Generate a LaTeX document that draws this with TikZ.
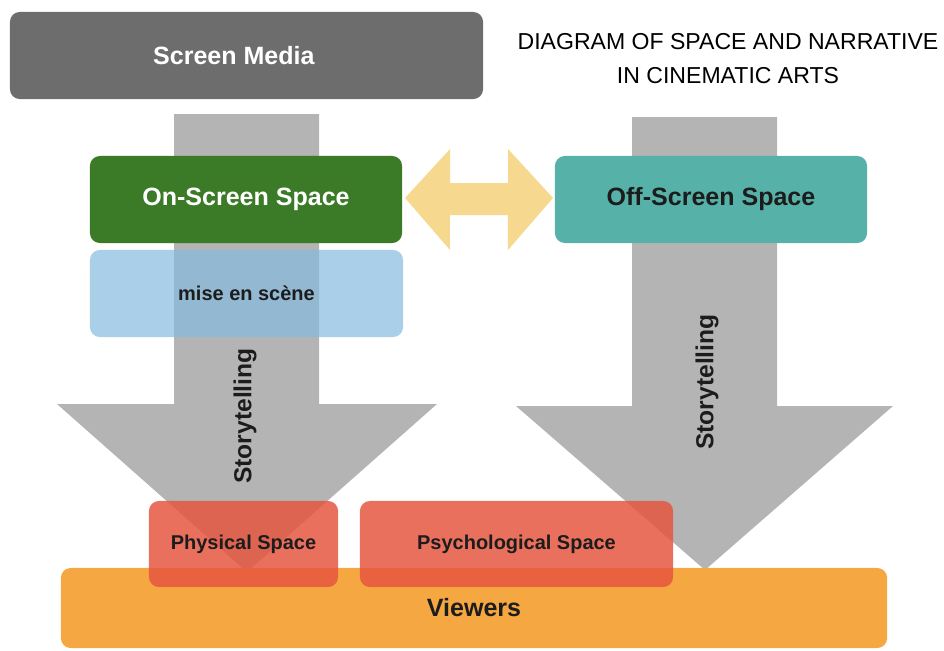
\documentclass[tikz,border=0pt]{standalone}
\usepackage{fontspec}
\setmainfont{Liberation Sans}
\usepackage{tikz}
\usepackage{xcolor}
\usetikzlibrary{positioning, calc}

\definecolor{mediagray}{HTML}{6D6D6D}
\definecolor{flowgray}{HTML}{B4B4B4}
\definecolor{ongreen}{HTML}{3B7B27}
\definecolor{offteal}{HTML}{56B2A8}
\definecolor{linkyellow}{HTML}{F6D88F}
\definecolor{sceneblue}{HTML}{86BBE0}
\definecolor{spacered}{HTML}{E6553F}
\definecolor{vieworange}{HTML}{F5A742}
\definecolor{darktext}{HTML}{1C1C1C}

\tikzset{
  box/.style={rectangle, rounded corners=7pt, inner sep=0pt, outer sep=0pt, minimum height=2.175cm, font=\bfseries\fontsize{17.8}{20}\selectfont},
  smallbox/.style={box, font=\bfseries\fontsize{14.2}{16}\selectfont, text=darktext},
  flow/.style={fill=flowgray, draw=none},
  flowlabel/.style={rotate=90, font=\bfseries\fontsize{17.5}{20}\selectfont, text=darktext}
}

\begin{document}
\begin{tikzpicture}[x=0.025cm, y=-0.025cm]
\useasboundingbox (0,0) rectangle (944,650);

% Define the big storytelling arrows
\fill[flow] (174,114) -- (319,114) -- (319,404) -- (437,404) -- (247,572) -- (57,404) -- (174,404) -- cycle;
\fill[flow] (632,117) -- (777,117) -- (777,406) -- (893,406) -- (705,570) -- (516,406) -- (632,406) -- cycle;

% Define the boxes
\node[box, fill=mediagray, text=white, minimum width=11.825cm] (media) at (246.5,55.5) {Screen Media\hspace*{18pt}};
\node[box, fill=ongreen, text=white, minimum width=7.8cm] (onscreen) at (246,199.5) {On-Screen Space};
\node[box, fill=offteal, text=darktext, minimum width=7.8cm] (offscreen) at (711,199.5) {Off-Screen Space};
\node[smallbox, fill=sceneblue, fill opacity=0.7, text opacity=1, minimum width=7.825cm] (scene) at (246.5,293.5) {mise en scène};

\node[box, fill=vieworange, text=darktext, minimum width=20.65cm, minimum height=2cm] (viewers) at (474,608) {Viewers};
\node[smallbox, fill=spacered, fill opacity=0.84, text opacity=1, minimum width=4.725cm, minimum height=2.15cm] (physical) at (243.5,544) {Physical Space};
\node[smallbox, fill=spacered, fill opacity=0.84, text opacity=1, minimum width=7.825cm, minimum height=2.15cm] (psycho) at (516.5,544) {Psychological Space};

% Labels on the arrows
\node[flowlabel] (storyleft) at (245,416) {Storytelling};
\node[flowlabel] (storyright) at (707,382) {Storytelling};

% Two-way link between on- and off-screen space
\coordinate (linkleft) at ($(onscreen.east)+(3,-1.5)$);
\coordinate (linkright) at ($(offscreen.west)+(-2,-1.5)$);
\fill[linkyellow] (linkleft) -- ++(45,-49) -- ++(0,34) -- ++(58,0) -- ++(0,-34)
  -- (linkright) -- ++(-45,52) -- ++(0,-35) -- ++(-58,0) -- ++(0,35) -- cycle;

% Title
\node[align=center, font=\fontsize{16.4}{24.2}\selectfont] (title) at (728,59) {DIAGRAM OF SPACE AND NARRATIVE\\IN CINEMATIC ARTS};

\end{tikzpicture}
\end{document}
